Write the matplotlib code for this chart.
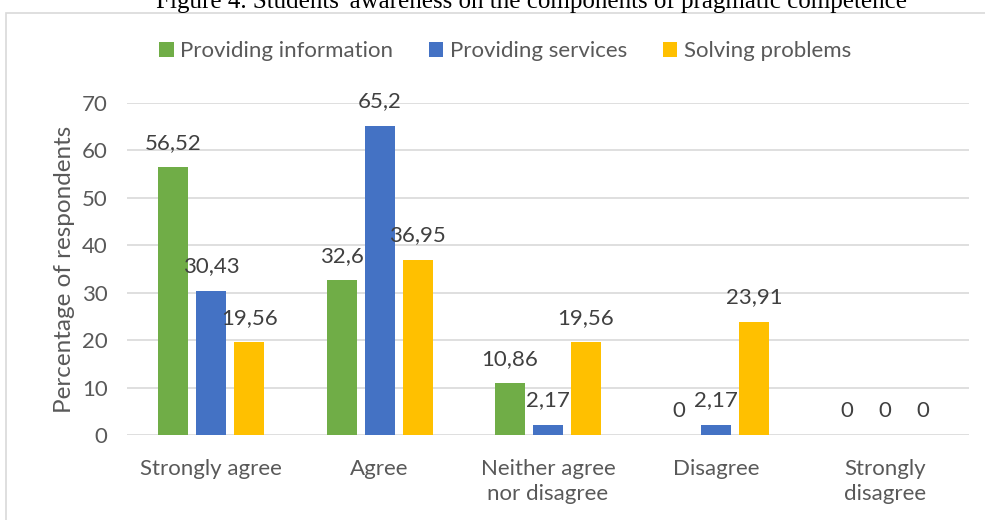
import matplotlib.pyplot as plt
import numpy as np
from matplotlib.patches import Rectangle

# data
categories = ['Strongly agree', 'Agree', 'Neither agree\nnor disagree', 'Disagree', 'Strongly\ndisagree']
series_names = ['Providing information', 'Providing services', 'Solving problems']
info = [56.52, 32.6, 10.86, 0, 0]
services = [30.43, 65.2, 2.17, 2.17, 0]
problems = [19.56, 36.95, 19.56, 23.91, 0]
yticks = [0, 10, 20, 30, 40, 50, 60, 70]

colors = ['#70ad47', '#4472c4', '#ffc000']
txt = '#595959'

plt.rcParams['font.family'] = ['Lato', 'DejaVu Sans']

fig = plt.figure(figsize=(9.85, 5.2), dpi=100)
ax = fig.add_axes([127 / 985, 1 - 435 / 520, 842 / 985, 332 / 520])

# chart frame (only left and top edges are in view)
fig.patches.append(Rectangle((6 / 985, -0.1), 1.2, 1 - 13 / 520 + 0.1, transform=fig.transFigure,
                             fill=False, edgecolor='#d9d9d9', linewidth=1.2))

x = np.arange(len(categories))
width = 0.178
step = 0.226
for i, (vals, name) in enumerate(zip([info, services, problems], series_names)):
    pos = x + (i - 1) * step
    ax.bar(pos, vals, width, color=colors[i], label=name, zorder=3)
    for px, v in zip(pos, vals):
        ax.annotate('{:g}'.format(v).replace('.', ','), xy=(px, v), xytext=(0, 17.5),
                    textcoords='offset points', ha='center', va='center',
                    fontsize=16, color='#404040', zorder=4)

ax.set_xlim(-0.5, len(categories) - 0.5)
ax.set_ylim(0, 70)
ax.set_yticks(yticks)
ax.set_xticks(x)
ax.set_xticklabels(categories, fontsize=16, color=txt, linespacing=1.35)
ax.tick_params(axis='y', labelsize=16, labelcolor=txt, length=0, pad=14)
ax.tick_params(axis='x', length=0, pad=17)
ax.grid(axis='y', color='#d9d9d9', linewidth=1.2, zorder=0)
for s in ax.spines.values():
    s.set_visible(False)

ax.set_ylabel('Percentage of respondents', fontsize=17.5, color=txt, labelpad=5)

ax.legend(loc='center', bbox_to_anchor=(0.513, 1 - 51 / 520), bbox_transform=fig.transFigure,
          ncol=3, frameon=False, fontsize=16, handlelength=0.65, handleheight=0.65,
          handletextpad=0.3, columnspacing=1.6, labelcolor=txt)

fig.text(532 / 985, 1 - 8 / 520, "Figure 4. Students' awareness on the components of pragmatic competence",
         ha='center', va='baseline', fontsize=18, family='Liberation Serif', color='black')

plt.savefig('out.png', dpi=100)
